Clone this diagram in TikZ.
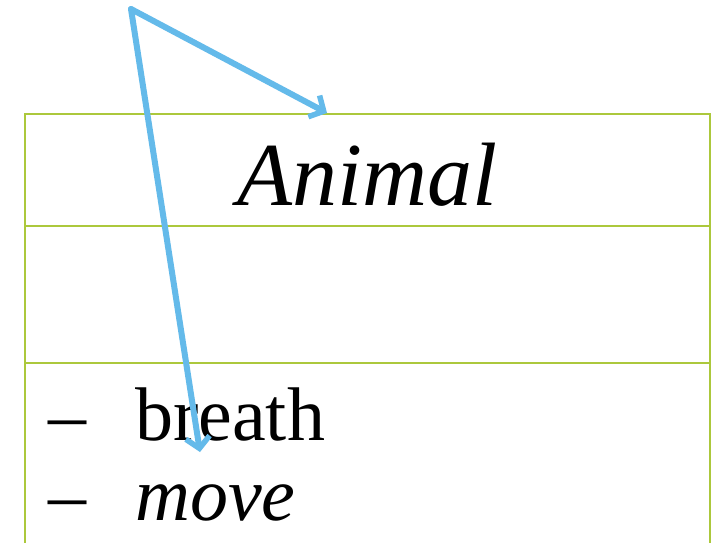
\documentclass[tikz,border=0pt]{standalone}
\usepackage{fontspec}
\setmainfont{Liberation Serif}
\usetikzlibrary{arrows.meta}
\definecolor{boxgreen}{RGB}{172,200,60}
\definecolor{arrowblue}{RGB}{100,186,234}
\tikzset{
  frame/.style={draw=boxgreen, line width=2.2pt},
  link/.style={draw=arrowblue, line width=6pt, line cap=round,
    -{Straight Barb[length=11pt,width=24pt,line width=5.5pt]}},
  txt/.style={inner sep=0pt, anchor=base west}
}
\begin{document}
\begin{tikzpicture}[x=1pt,y=-1pt]
\useasboundingbox (0,0) rectangle (715,543);
\fill[white] (0,0) rectangle (715,543);
% class box
\draw[frame] (25,560) -- (25,114) -- (710,114) -- (710,560);
\draw[frame] (25,226) -- (710,226);
\draw[frame] (25,363) -- (710,363);
\node[inner sep=0pt, anchor=base] (title) at (367,205) {\fontsize{90}{90}\selectfont\itshape Animal};
\node[txt] (d1) at (48,440) {\fontsize{76}{76}\selectfont –};
\node[txt] (m1) at (135,440) {\fontsize{76}{76}\selectfont breath};
\node[txt] (d2) at (48,520) {\fontsize{76}{76}\selectfont –};
\node[txt] (m2) at (135,520) {\fontsize{76}{76}\selectfont\itshape move};
% arrows
\coordinate (src) at (131,9);
\coordinate (t1) at (327,113);
\coordinate (t2) at (200,452);
\draw[link] (src) -- (t1);
\draw[link] (src) -- (t2);
\end{tikzpicture}
\end{document}
